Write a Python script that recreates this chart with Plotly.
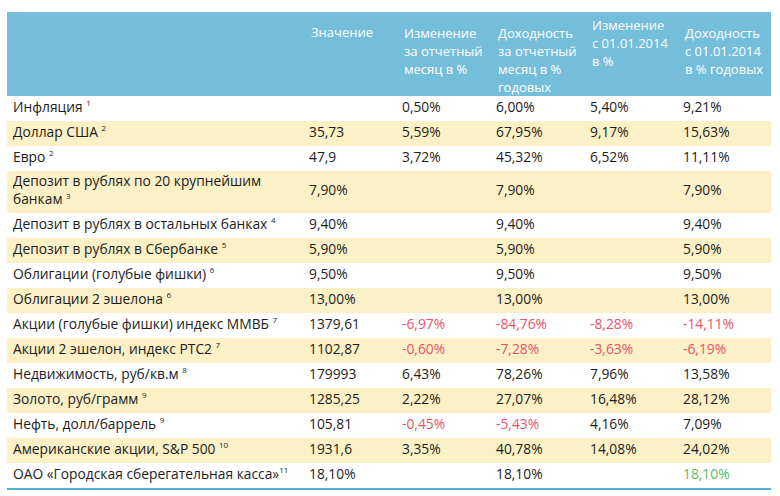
import plotly.graph_objects as go

# ---------------- data ----------------
headers = [
    "",
    "Значение",
    "Изменение<br>за отчетный<br>месяц в %",
    "Доходность<br>за отчетный<br>месяц в %<br>годовых",
    "Изменение<br>с 01.01.2014<br>в %",
    "Доходность<br>с 01.01.2014<br>в % годовых",
]

labels = [
    "Инфляция",
    "Доллар США",
    "Евро",
    "Депозит в рублях по 20 крупнейшим<br>банкам",
    "Депозит в рублях в остальных банках",
    "Депозит в рублях в Сбербанке",
    "Облигации (голубые фишки)",
    "Облигации 2 эшелона",
    "Акции (голубые фишки) индекс ММВБ",
    "Акции 2 эшелон, индекс РТС2",
    "Недвижимость, руб/кв.м",
    "Золото, руб/грамм",
    "Нефть, долл/баррель",
    "Американские акции, S&P 500",
    "ОАО «Городская сберегательная касса»",
]
footnotes = ["1", "2", "2", "3", "4", "5", "6", "6", "7", "7", "8", "9", "9", "10", "11"]

values = ["", "35,73", "47,9", "7,90%", "9,40%", "5,90%", "9,50%", "13,00%",
          "1379,61", "1102,87", "179993", "1285,25", "105,81", "1931,6", "18,10%"]
change_month = ["0,50%", "5,59%", "3,72%", "", "", "", "", "",
                "-6,97%", "-0,60%", "6,43%", "2,22%", "-0,45%", "3,35%", ""]
yield_month = ["6,00%", "67,95%", "45,32%", "7,90%", "9,40%", "5,90%", "9,50%", "13,00%",
               "-84,76%", "-7,28%", "78,26%", "27,07%", "-5,43%", "40,78%", "18,10%"]
change_ytd = ["5,40%", "9,17%", "6,52%", "", "", "", "", "",
              "-8,28%", "-3,63%", "7,96%", "16,48%", "4,16%", "14,08%", ""]
yield_ytd = ["9,21%", "15,63%", "11,11%", "7,90%", "9,40%", "5,90%", "9,50%", "13,00%",
             "-14,11%", "-6,19%", "13,58%", "28,12%", "7,09%", "24,02%", "18,10%"]

highlight_row = len(labels) - 1  # own product highlighted in last column

# ---------------- layout / style ----------------
W, H = 780, 496
FONT = "Open Sans"
FS = 13.8
HFS = 13
SUP_FS = 8
TEXT = "#1e1c1c"
RED = "#e8536a"
GREEN = "#5cb85c"
HEADER_BG = "#74bedc"
ROW_BG = ["#ffffff", "#fbf0c6"]
LINE_BLUE = "#4fb3dc"

TABLE_LEFT, TABLE_RIGHT = 7, 771
HEADER_TOP, HEADER_H = 12, 84
ROW_H, EXTRA_LINE_H = 25, 17
col_x = [13, 309, 402, 496, 590, 683]
header_first_line = 32.5
header_line_gap = 18
header_offsets = [0, -0.5, 0, 0, -7.5, 0.5]


def with_note(label, note):
    gap = "" if len(note) > 1 and len(label) > 30 else " "
    return f"{label}{gap}<sup><span style='font-size:{SUP_FS}px'>{note}</span></sup>"


label_texts = [with_note(l, n) for l, n in zip(labels, footnotes)]
columns = [label_texts, values, change_month, yield_month, change_ytd, yield_ytd]

fig = go.Figure()
shapes = []

# header background
shapes.append(dict(type="rect", xref="x", yref="y", x0=TABLE_LEFT, x1=TABLE_RIGHT,
                   y0=HEADER_TOP, y1=HEADER_TOP + HEADER_H,
                   fillcolor=HEADER_BG, line=dict(width=0), layer="below"))

# row geometry derived from number of text lines
row_centers = []
y = HEADER_TOP + HEADER_H
for i, lab in enumerate(labels):
    h = ROW_H + EXTRA_LINE_H * lab.count("<br>")
    row_centers.append(y + h / 2)
    shapes.append(dict(type="rect", xref="x", yref="y", x0=TABLE_LEFT, x1=TABLE_RIGHT,
                       y0=y, y1=y + h, fillcolor=ROW_BG[i % 2], line=dict(width=0),
                       layer="below"))
    y += h
table_bottom = y

shapes.append(dict(type="line", xref="x", yref="y", x0=TABLE_LEFT, x1=TABLE_RIGHT,
                   y0=table_bottom + 1, y1=table_bottom + 1,
                   line=dict(color=LINE_BLUE, width=2)))

# cell texts (empty cells are skipped)
for c, col in enumerate(columns):
    xs, ys, texts, colors = [], [], [], []
    for r, v in enumerate(col):
        if not v:
            continue
        if c > 0 and v.startswith("-"):
            color = RED
        elif c == len(columns) - 1 and r == highlight_row:
            color = GREEN
        else:
            color = TEXT
        xs.append(col_x[c])
        ys.append(row_centers[r])
        texts.append(v)
        colors.append(color)
    fig.add_trace(go.Scatter(
        x=xs, y=ys, mode="text", text=texts,
        textposition="middle right", textfont=dict(family=FONT, size=FS, color=colors),
        hoverinfo="skip", showlegend=False, cliponaxis=False))

# header texts (one annotation per line for the wider leading)
annotations = []
for c, htxt in enumerate(headers):
    if not htxt:
        continue
    for k, line in enumerate(htxt.split("<br>")):
        annotations.append(dict(
            x=col_x[c], y=header_first_line + header_offsets[c] + k * header_line_gap,
            xref="x", yref="y", xanchor="left", yanchor="middle",
            text=line, showarrow=False, align="left",
            font=dict(family=FONT, size=HFS, color="#ffffff")))

fig.update_layout(
    width=W, height=H, margin=dict(l=0, r=0, t=0, b=0),
    paper_bgcolor="#ffffff", plot_bgcolor="#ffffff",
    xaxis=dict(range=[0, W], visible=False, fixedrange=True),
    yaxis=dict(range=[H, 0], visible=False, fixedrange=True),
    shapes=shapes, annotations=annotations,
)

fig.write_html("out.html", config={"displayModeBar": False},
               post_script="document.body.style.margin='0';")
